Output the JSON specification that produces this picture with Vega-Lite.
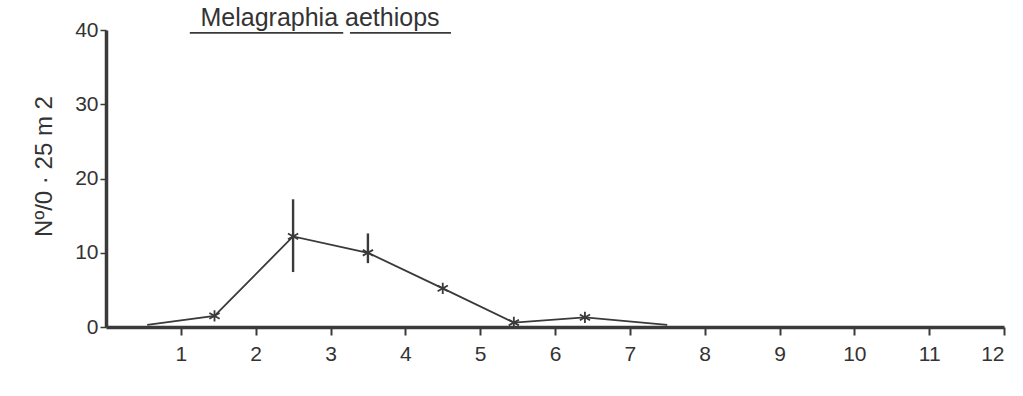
{
  "$schema": "https://vega.github.io/schema/vega-lite/v6.json",
  "width": 898,
  "height": 297,
  "autosize": "none",
  "padding": {"left": 106, "top": 30, "right": 19, "bottom": 69},
  "background": "white",
  "config": {
    "view": {"stroke": null},
    "font": "Liberation Sans",
    "axis": {"grid": false, "domainColor": "#3a3a3a", "tickColor": "#3a3a3a", "labelColor": "#333", "titleColor": "#333", "labelFont": "Liberation Sans", "titleFont": "Liberation Sans", "labelFontWeight": "normal", "titleFontWeight": "normal"}
  },
  "datasets": {
    "series": [
      {"x": 0.55, "y": 0.3, "marked": false},
      {"x": 1.45, "y": 1.5, "marked": true},
      {"x": 2.5, "y": 12.2, "marked": true},
      {"x": 3.5, "y": 10.0, "marked": true},
      {"x": 4.5, "y": 5.2, "marked": true},
      {"x": 5.45, "y": 0.6, "marked": true},
      {"x": 6.4, "y": 1.3, "marked": true},
      {"x": 7.5, "y": 0.3, "marked": false}
    ],
    "errors": [
      {"x": 2.5, "lo": 7.4, "hi": 17.2},
      {"x": 3.5, "lo": 8.6, "hi": 12.6}
    ],
    "label": [
      {"x": 2.86, "y": 40.6, "text": "Melagraphia aethiops"}
    ],
    "underline": [
      {"x": 1.12, "x2": 3.17, "y": 39.6},
      {"x": 3.26, "x2": 4.61, "y": 39.6}
    ]
  },
  "layer": [
    {
      "data": {"name": "series"},
      "mark": {"type": "line", "color": "#3a3a3a", "strokeWidth": 1.8, "clip": false},
      "encoding": {
        "x": {"field": "x", "type": "quantitative", "scale": {"domain": [0, 12], "nice": false},
          "axis": {"values": [1,2,3,4,5,6,7,8,9,10,11,12], "format": "d", "title": null, "domainWidth": 3.5, "tickSize": 8, "tickWidth": 2, "labelFontSize": 21, "labelPadding": 8}},
        "y": {"field": "y", "type": "quantitative", "scale": {"domain": [0, 40], "nice": false},
          "axis": {"values": [0,10,20,30,40], "format": "d", "title": "Nº/0 · 25 m  2", "titleFontSize": 24, "titlePadding": 18, "titleY": 136, "domainWidth": 3.5, "tickSize": 6, "tickWidth": 1.5, "labelFontSize": 21, "labelPadding": 2}}
      }
    },
    {
      "data": {"name": "series"},
      "transform": [{"filter": "datum.marked"}],
      "mark": {"type": "point", "shape": "M0,-1L0,1M-0.9,-0.5L0.9,0.5M-0.9,0.5L0.9,-0.5", "filled": false, "color": "#3a3a3a", "strokeWidth": 1.8, "size": 130, "opacity": 1},
      "encoding": {
        "x": {"field": "x", "type": "quantitative"},
        "y": {"field": "y", "type": "quantitative"}
      }
    },
    {
      "data": {"name": "errors"},
      "mark": {"type": "rule", "color": "#3a3a3a", "strokeWidth": 2.4},
      "encoding": {
        "x": {"field": "x", "type": "quantitative"},
        "y": {"field": "lo", "type": "quantitative"},
        "y2": {"field": "hi"}
      }
    },
    {
      "data": {"name": "label"},
      "mark": {"type": "text", "fontSize": 25, "color": "#333", "align": "center", "baseline": "alphabetic", "clip": false, "font": "Liberation Sans"},
      "encoding": {
        "x": {"field": "x", "type": "quantitative"},
        "y": {"field": "y", "type": "quantitative"},
        "text": {"field": "text"}
      }
    },
    {
      "data": {"name": "underline"},
      "mark": {"type": "rule", "color": "#3a3a3a", "strokeWidth": 1.8, "clip": false},
      "encoding": {
        "x": {"field": "x", "type": "quantitative"},
        "x2": {"field": "x2"},
        "y": {"field": "y", "type": "quantitative"}
      }
    }
  ]
}
